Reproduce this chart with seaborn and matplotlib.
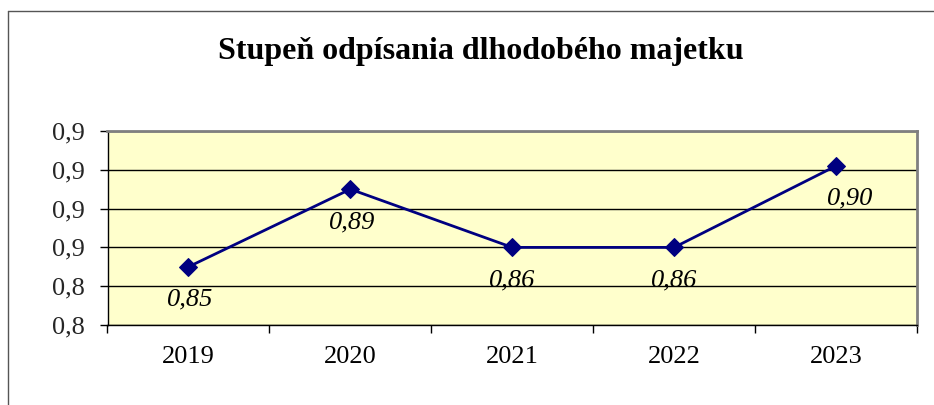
import matplotlib
matplotlib.use("Agg")
import matplotlib.pyplot as plt
import seaborn as sns
import pandas as pd
from matplotlib.ticker import FixedLocator, FuncFormatter
from matplotlib.lines import Line2D

years = ["2019", "2020", "2021", "2022", "2023"]
values = [0.85, 0.89, 0.86, 0.86, 0.902]
value_labels = ["0,85", "0,89", "0,86", "0,86", "0,90"]
y_ticks = [0.82, 0.84, 0.86, 0.88, 0.90, 0.92]
title = "Stupeň odpísania dlhodobého majetku"

sns.set_theme(style="white")
plt.rcParams["font.family"] = ["Liberation Serif", "DejaVu Serif"]

fig = plt.figure(figsize=(9.34, 4.05), dpi=100)
ax = fig.add_axes([107.5 / 934, 80 / 405, (917 - 107.5) / 934, (325 - 131) / 405])

df = pd.DataFrame({"year": years, "value": values})
df["x"] = range(len(years))
sns.lineplot(data=df, x="x", y="value", ax=ax, color="#000080", linewidth=2,
             marker="D", markersize=9, markeredgecolor="#000080")

ax.set_facecolor("#FFFFCC")
ax.set_xlim(-0.5, len(years) - 0.5)
ax.set_ylim(0.82, 0.92)
ax.yaxis.set_major_locator(FixedLocator(y_ticks))
ax.yaxis.set_major_formatter(FuncFormatter(lambda v, p: f"{v:.1f}".replace(".", ",")))
ax.set_xticks(range(len(years)))
ax.set_xticklabels(years)
ax.set_xticks([i - 0.5 for i in range(len(years) + 1)], minor=True)
ax.tick_params(axis="x", which="major", length=0, labelsize=19, pad=15, colors="black")
ax.tick_params(axis="x", which="minor", length=6, width=1, color="black", direction="out", bottom=True)
ax.tick_params(axis="y", which="major", length=6, width=1, color="black", direction="out",
               labelsize=19, pad=10, left=True)
ax.grid(axis="y", color="black", linewidth=1)
ax.set_axisbelow(True)
ax.set_xlabel("")
ax.set_ylabel("")
for s in ["top", "right"]:
    ax.spines[s].set_color("#808080")
    ax.spines[s].set_linewidth(2)
for s in ["left", "bottom"]:
    ax.spines[s].set_color("black")
    ax.spines[s].set_linewidth(1)

dx = [2, 2, 0, 0, 14]
for i, (v, lab) in enumerate(zip(values, value_labels)):
    ax.annotate(lab, (i, v), xytext=(dx[i], -33), textcoords="offset pixels",
                ha="center", va="center", fontsize=19, style="italic", color="black")

fig.text(481 / 934, 1 - 51 / 405, title, ha="center", va="center",
         fontsize=23, fontweight="bold", color="black")

# outer chart frame (left and top edges visible)
fig.add_artist(Line2D([7.5 / 934, 7.5 / 934], [0, 1 - 10.5 / 405], transform=fig.transFigure,
                      color="#555555", linewidth=1))
fig.add_artist(Line2D([7.5 / 934, 1], [1 - 10.5 / 405, 1 - 10.5 / 405], transform=fig.transFigure,
                      color="#555555", linewidth=1))

fig.savefig("out.png", dpi=100, facecolor="white")
